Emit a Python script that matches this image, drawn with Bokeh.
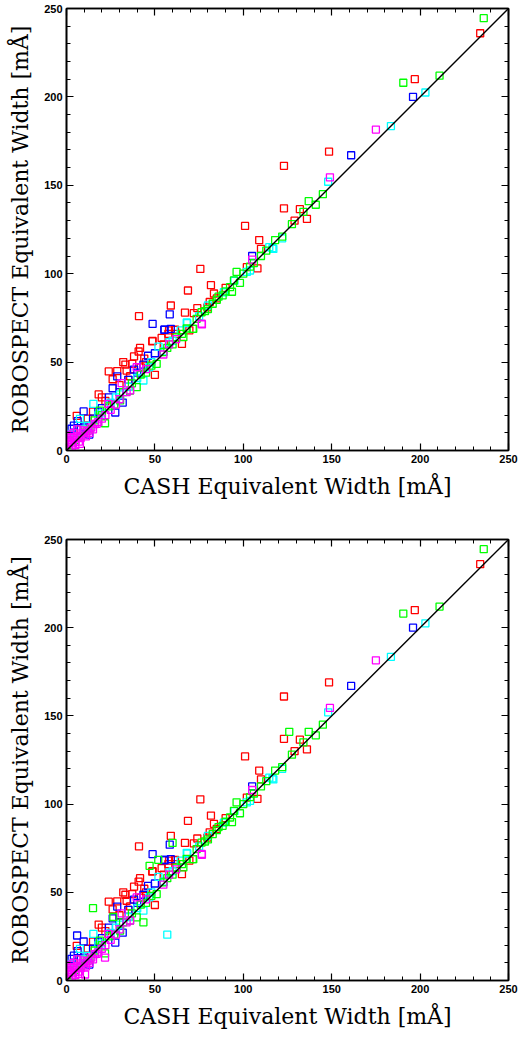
from bokeh.plotting import figure
from bokeh.models import ColumnDataSource, LinearAxis, SingleIntervalTicker, Range1d, CustomJSTickFormatter
from bokeh.layouts import column
from bokeh.embed import file_html
from bokeh.resources import INLINE

# ---------------- data (CASH EW, ROBOSPECT EW) in mÅ ----------------
red_x = [234, 197, 148.5, 123, 123, 132, 129, 136, 109, 110, 101, 108, 75.7, 68.7, 81.7, 83.4,
         59, 67, 74, 72, 81, 79.7, 48.7, 57.6, 69.5, 41, 58, 48.5, 41.6, 40.8, 38.2, 32.1, 33.3,
         37.2, 23.9, 26.1, 50, 18.2, 5.8, 53.8, 65.3, 28.7, 34, 61.4, 102, 45, 42, 36, 30, 22, 20,
         15, 12, 8, 10, 35, 44, 55, 62, 85, 90]
red_y = [236, 210, 169, 161, 137, 136.5, 130, 131, 119, 114, 127, 103, 102.7, 90.5, 93.5, 88.8,
         82, 78, 80.5, 77.7, 84, 81, 62, 66, 68, 76, 68, 61.7, 58, 56, 53.2, 50, 48.6,
         49, 44.7, 40.3, 42.8, 31.7, 19.6, 63.7, 60.3, 44.9, 45.2, 68.3, 103.7, 50, 47, 42, 37, 28, 30,
         22, 18, 12, 14, 40, 52, 60, 66, 86, 92]

blue_x = [196, 161, 58.4, 48.7, 105, 55.5, 59, 55.3, 46.1, 43.5, 38.2, 28.7, 26.1, 31.8, 27.6,
          9.7, 4.2, 2.9, 12.9, 6.3, 35, 40, 20, 15, 10, 18, 24, 50, 30]
blue_y = [200, 167, 77, 71.6, 110, 68.3, 68.8, 68.3, 53.6, 48.6, 45.8, 41.9, 35.2, 27.1, 21.5,
          22.1, 14.1, 12.3, 9, 16.6, 40, 44, 24, 18, 13, 22, 30, 55, 33]

cyan_x = [203, 183.5, 148, 122, 116.5, 114.7, 117, 103.8, 102, 89, 68.3, 64.6, 68, 58.2, 52,
          43.5, 15.2, 7.6, 2, 30.3, 46.8, 35, 25, 20, 12, 5, 40, 55, 75, 95, 80, 10, 60, 48, 28, 18]
cyan_y = [202.5, 183.5, 152, 120, 114.5, 115, 114, 101.8, 101, 89.5, 72, 68, 72.4, 61.3, 58.8,
          39.6, 26.4, 17.9, 9.4, 31.7, 47.1, 36, 27, 21, 14, 7, 41, 56, 76, 96, 82, 12, 62, 50, 30, 20]

green_x = [236, 211, 190.5, 145, 137, 141, 134, 127.5, 118, 122, 113, 110, 103.8, 96.2, 98.1,
           94.7, 92.5, 93.6, 88.3, 85, 82.7, 78.3, 76.4, 73.6, 71.4, 65.3, 62.3, 35.9, 21.8, 51,
           39.7, 30.3, 18.9, 54.8, 66.1, 71.7, 3, 5, 8, 10, 13, 16, 20, 24, 27, 32, 37, 42, 45, 48,
           57, 60, 68, 80, 86, 90, 100, 106]
green_y = [244.5, 212, 208, 145, 141, 139, 135, 128, 119, 121, 113, 110, 104, 101, 94.8,
           96.2, 92.4, 89.8, 87.7, 85.2, 83, 78.8, 78.2, 74.5, 68.8, 66, 64, 33.9, 15.4, 49,
           35.8, 28.3, 22.6, 55.6, 64.1, 68.8, 3, 6, 8, 10, 12, 17, 20, 25, 26, 33, 38, 43, 44, 48,
           58, 60, 69, 80, 87, 90, 100, 106]

magenta_x = [175, 149, 76.6, 105, 76.5, 54.8, 39.7, 31.2, 23.6, 17.1, 9.5, 2.9, 0.5, 7.6, 1, 2, 3,
             4, 5, 6, 8, 9, 10, 12, 14, 16, 3, 5, 7, 11, 13, 15, 18, 20, 22, 25, 28, 30, 34, 36, 45,
             58, 62, 1.5, 0.5, 2, 4, 6]
magenta_y = [181.5, 154.5, 71.3, 108, 71.7, 54.3, 47.1, 38.1, 26.4, 15.1, 11.3, 7.5, 3.8, 3.8, 5, 6, 4,
             7, 5, 8, 7, 10, 9, 11, 13, 15, 2, 3, 5, 8, 10, 12, 16, 18, 20, 23, 26, 29, 33, 34, 46,
             60, 63, 1, 7, 9, 10, 12]

# extra measurements that appear only in the lower panel
extra_green_x = [15, 43.5, 60, 47, 26.5, 126, 51.9]
extra_green_y = [41, 33, 78, 65, 36, 141, 68.4]
extra_cyan_x = [57]
extra_cyan_y = [26]
extra_blue_x = [6]
extra_blue_y = [25.5]
extra_magenta_x = [21.8, 10.5]
extra_magenta_y = [13, 3.4]

identity = [0, 250]
axis_ticks_major = 50

COLORS = {"red": "#ff0000", "blue": "#0000ff", "cyan": "#00ffff", "green": "#00ff00", "magenta": "#ff00ff"}


def style_axis(ax, labels=True):
    ax.ticker = SingleIntervalTicker(interval=axis_ticks_major, num_minor_ticks=5)
    ax.axis_line_width = 1.6
    ax.axis_line_color = "black"
    ax.major_tick_in = 7
    ax.major_tick_out = 0
    ax.minor_tick_in = 4
    ax.minor_tick_out = 0
    ax.major_tick_line_width = 1.2
    ax.minor_tick_line_width = 1.0
    ax.major_tick_line_color = "black"
    ax.minor_tick_line_color = "black"
    if labels:
        ax.major_label_text_font = "Liberation Sans"
        ax.major_label_text_font_style = "bold"
        ax.major_label_text_font_size = "11px"
        ax.major_label_text_color = "black"
        ax.major_label_standoff = 4
        ax.axis_label_text_font = "DejaVu Serif"
        ax.axis_label_text_font_style = "normal"
        ax.axis_label_text_font_size = "22px"
        ax.axis_label_text_color = "black"
        ax.axis_label_standoff = 8
    else:
        ax.formatter = CustomJSTickFormatter(code="return ''")
        ax.major_label_standoff = 0


def make_panel(series, height, top, bottom):
    p = figure(width=522, height=height, x_range=Range1d(0, 250), y_range=Range1d(0, 250),
               output_backend="svg", toolbar_location=None,
               min_border_left=66, min_border_right=14, min_border_top=top, min_border_bottom=bottom)
    p.grid.visible = False
    p.outline_line_color = "black"
    p.outline_line_width = 1.6
    p.background_fill_color = "white"
    p.border_fill_color = "white"
    p.xaxis.axis_label = "CASH Equivalent Width [mÅ]"
    p.yaxis.axis_label = "ROBOSPECT Equivalent Width [mÅ]"
    style_axis(p.xaxis[0])
    style_axis(p.yaxis[0])
    ra = LinearAxis()
    style_axis(ra, labels=False)
    p.add_layout(ra, "right")
    ta = LinearAxis()
    style_axis(ta, labels=False)
    p.add_layout(ta, "above")

    for name in ["red", "blue", "cyan", "green", "magenta"]:
        xs, ys = series[name]
        src = ColumnDataSource(dict(x=xs, y=ys))
        p.scatter("x", "y", source=src, marker="square", size=7, fill_color=None,
                  line_color=COLORS[name], line_width=1.3)
    p.line(identity, identity, line_color="black", line_width=1.4)
    return p


top_series = {
    "red": (red_x, red_y),
    "blue": (blue_x, blue_y),
    "cyan": (cyan_x, cyan_y),
    "green": (green_x, green_y),
    "magenta": (magenta_x, magenta_y),
}
bottom_series = {
    "red": (red_x, red_y),
    "blue": (blue_x + extra_blue_x, blue_y + extra_blue_y),
    "cyan": (cyan_x + extra_cyan_x, cyan_y + extra_cyan_y),
    "green": (green_x + extra_green_x, green_y + extra_green_y),
    "magenta": (magenta_x + extra_magenta_x, magenta_y + extra_magenta_y),
}

p1 = make_panel(top_series, 519, 8, 69)
p2 = make_panel(bottom_series, 519, 20, 58)

layout = column(p1, p2, spacing=0)
open("out.html", "w").write(file_html(layout, INLINE))
